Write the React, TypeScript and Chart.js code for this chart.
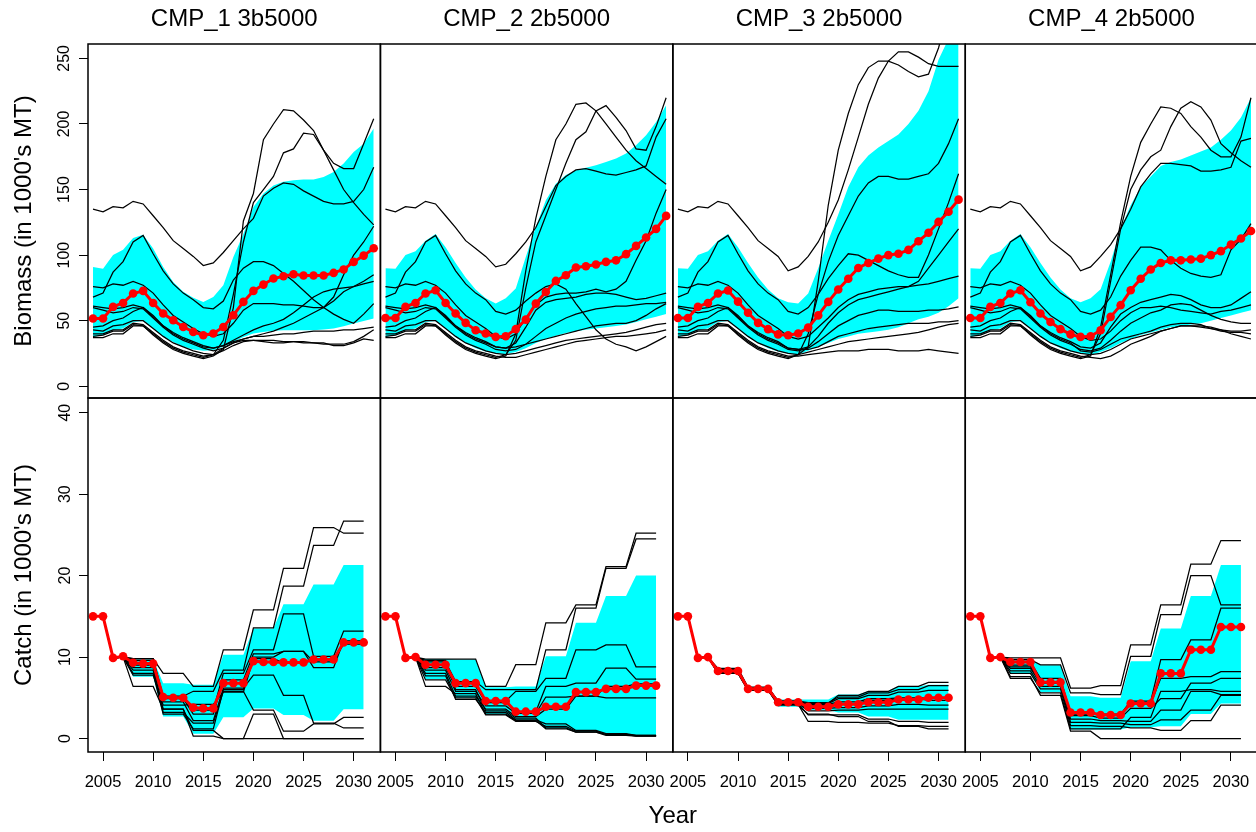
import React, { useEffect, useRef } from "react";
import { Chart, registerables } from "chart.js";

Chart.register(...registerables);

// ---------- axes / labels ----------
const PANEL_TITLES = ["CMP_1 3b5000", "CMP_2 2b5000", "CMP_3 2b5000", "CMP_4 2b5000"];
const X_TICKS = [2005, 2010, 2015, 2020, 2025, 2030];
const BIO_TICKS = [0, 50, 100, 150, 200, 250];
const CATCH_TICKS = [0, 10, 20, 30, 40];
const YEARS_BIO = [2004, 2005, 2006, 2007, 2008, 2009, 2010, 2011, 2012, 2013, 2014, 2015, 2016, 2017, 2018, 2019, 2020, 2021, 2022, 2023, 2024, 2025, 2026, 2027, 2028, 2029, 2030, 2031, 2032];
const YEARS_CATCH = [2004, 2005, 2006, 2007, 2008, 2009, 2010, 2011, 2012, 2013, 2014, 2015, 2016, 2017, 2018, 2019, 2020, 2021, 2022, 2023, 2024, 2025, 2026, 2027, 2028, 2029, 2030, 2031];

// ---------- biomass: medians ----------
const BIO_MED_1 = [51.6, 51.6, 60.5, 63.5, 70.7, 72.7, 63.5, 55.4, 50.3, 45.2, 41.4, 38.9, 40.2, 45.2, 54.1, 64.3, 72.7, 77.5, 82.1, 83.9, 85.4, 84.4, 84.4, 84.4, 86.4, 89, 94.8, 99.6, 105.2];
const BIO_MED_2 = [52, 52, 60.5, 63.5, 70.7, 73.2, 63.5, 55.4, 48.3, 42.7, 40.2, 37.6, 38.1, 43.5, 50.8, 63, 71.9, 80.3, 84.6, 90.5, 91.5, 92.8, 94.8, 96, 100.7, 107, 113.4, 120, 129.9];
const BIO_MED_3 = [52, 52, 60.5, 63.5, 70.7, 73, 64.5, 56, 48.3, 43.5, 39.5, 38.9, 40.2, 44.7, 54, 64.3, 73.7, 82, 90.2, 94, 97.3, 100, 101, 104, 110.6, 117, 125.3, 133, 142.3];
const BIO_MED_4 = [52, 52, 60.5, 63.5, 70.7, 73.2, 64, 55.4, 49, 43.5, 39.5, 37.6, 38.1, 42.7, 52.9, 61.8, 73.2, 82, 89, 94, 96, 96, 96.6, 97.3, 100, 103, 108, 112.6, 118.4];

// ---------- biomass: bands ----------
const BIO_HI_1 = [91, 89.5, 100, 104, 113, 115.6, 105, 91, 79.5, 72, 67.4, 64.3, 68, 77, 98.6, 116, 136.7, 147, 153, 156, 157, 157.6, 157.6, 159.6, 163.4, 169.8, 178.7, 185, 196.5];
const BIO_LO_1 = [37.6, 39, 42.7, 44, 49, 49.8, 44, 37.6, 33.8, 30, 28, 27, 27.5, 30, 33.8, 37.6, 40.2, 41.4, 42.2, 42.7, 42.7, 42.7, 42.7, 43.2, 44, 45.7, 47.8, 49.8, 51.6];
const BIO_HI_2 = [90, 89.5, 100, 103, 111, 116, 106, 94, 83, 73.7, 67, 63, 67, 74.5, 98.6, 121.5, 141.8, 154.5, 161, 164.7, 166.7, 168.5, 171, 173.6, 177.4, 183.8, 191.4, 201.5, 214.3];
const BIO_LO_2 = [37.6, 39, 42.7, 44, 49, 49.8, 44, 37.6, 33, 29, 26.5, 25, 24.5, 26, 29, 33, 36, 38.5, 40.5, 42, 43, 44, 45, 46, 47, 49, 51, 53, 55];
const BIO_HI_3 = [90, 89.5, 100, 103, 111, 116, 106, 94, 83, 73.7, 67, 64, 63, 70.7, 90, 111, 131, 152, 167, 176, 182, 187, 192, 200, 210, 225, 249, 265, 280];
const BIO_LO_3 = [37.6, 39, 42.7, 44, 49, 49.8, 44, 37.6, 33, 29, 26.5, 25, 24, 27, 30, 33, 36, 38, 40, 41, 42, 43, 45, 48, 51, 53, 56, 61, 67];
const BIO_HI_4 = [90, 89.5, 100, 103, 111, 116, 106, 94, 83, 73.7, 67, 64, 67, 74, 95, 120, 138, 152, 160, 168, 171, 173, 176, 179, 182, 188, 195, 205, 220];
const BIO_LO_4 = [37.6, 39, 42.7, 44, 49, 49.8, 44, 37.6, 33, 29, 26.5, 25, 24, 26, 29, 33, 36, 39, 41, 43, 45, 46, 47, 48, 50, 52, 54, 56, 58];

// ---------- biomass: 10 sample trajectories, 2004-2014 (shared history) ----------
const BIO_HIST = [
  [135, 133, 137, 136, 141, 139, 130, 121, 111, 105, 99],
  [76, 75, 78, 77, 80, 77, 71, 62, 54, 49, 44],
  [68, 71, 87, 95, 110, 115, 101, 88, 78, 71, 66],
  [61, 60, 59, 60, 62, 60, 53, 46, 41, 37, 34],
  [60, 58, 56, 57, 60, 59, 52, 45, 39, 35, 32],
  [45, 46, 50, 52, 57, 60, 54, 46, 40, 36, 33],
  [43, 42, 46, 47, 50, 50, 44, 38, 33, 30, 27],
  [40, 40, 43, 43, 48, 47, 41, 35, 30, 27, 25],
  [38, 39, 42, 42, 47, 46, 40, 34, 29, 26, 24],
  [37, 37, 40, 40, 46, 46, 39, 33, 28, 25, 23],
];
// ---------- biomass: projections 2015-2032 ----------
const BIO_PROJ_1 = [
  [92, 94, 102, 111, 120, 128, 145, 151, 155, 154, 149, 145, 141, 139, 139, 141, 150, 167],
  [40, 38, 40, 48, 58, 63, 63, 63, 62, 62, 61, 60, 60, 65, 72, 76, 80, 85],
  [60, 59, 65, 81, 90, 95, 95, 92, 86, 80, 73, 66, 60, 55, 51, 48, 55, 63],
  [31, 29, 31, 35, 39, 43, 46, 48, 51, 56, 62, 68, 72, 74, 75, 76, 78, 80],
  [29, 27, 29, 33, 36, 38, 40, 42, 45, 48, 52, 56, 60, 68, 85, 100, 110, 122],
  [30, 29, 31, 34, 36, 38, 38, 39, 40, 40, 41, 42, 42, 42, 43, 43, 44, 45],
  [25, 24, 27, 31, 34, 35, 35, 35, 34, 34, 33, 33, 32, 32, 32, 34, 38, 43],
  [23, 24, 29, 33, 35, 35, 34, 33, 33, 34, 34, 33, 33, 31, 31, 33, 36, 35],
  [22, 24, 35, 70, 110, 140, 150, 160, 178, 181, 193, 192, 180, 170, 166, 166, 185, 204],
  [21, 23, 28, 60, 126, 147, 188, 200, 211, 210, 203, 195, 180, 165, 150, 140, 131, 123],
];
const BIO_PROJ_2 = [
  [91, 93, 101, 110, 121, 137, 153, 160, 165, 166, 164, 162, 161, 163, 165, 168, 190, 204],
  [38, 36, 40, 52, 62, 68, 70, 71, 71, 72, 74, 72, 74, 80, 96, 111, 132, 150],
  [57, 55, 58, 65, 71, 76, 78, 74, 63, 53, 43, 36, 32, 30, 27, 30, 34, 38],
  [30, 29, 33, 45, 58, 64, 66, 67, 68, 70, 71, 71, 70, 68, 66, 67, 69, 71],
  [28, 27, 28, 32, 38, 44, 48, 52, 55, 57, 59, 60, 61, 61, 62, 63, 63, 64],
  [30, 29, 30, 32, 34, 36, 38, 40, 42, 44, 46, 47, 48, 48, 50, 54, 59, 63],
  [25, 24, 25, 27, 29, 31, 33, 35, 36, 37, 38, 39, 40, 41, 43, 45, 47, 48],
  [23, 22, 22, 24, 26, 28, 30, 32, 34, 35, 36, 37, 38, 38, 39, 40, 41, 43],
  [22, 24, 35, 75, 110, 130, 150, 170, 188, 194, 210, 214, 205, 195, 181, 180, 198, 220],
  [21, 23, 40, 88, 128, 160, 188, 200, 215, 216, 210, 200, 190, 180, 172, 166, 160, 154],
];
const BIO_PROJ_3 = [
  [88, 91, 99, 110, 125, 142, 165, 190, 215, 235, 248, 255, 255, 251, 246, 244, 244, 244],
  [38, 36, 38, 45, 52, 60, 66, 70, 72, 74, 75, 76, 76, 77, 78, 80, 82, 84],
  [57, 55, 60, 70, 82, 92, 101, 100, 96, 92, 88, 85, 83, 83, 100, 120, 140, 162],
  [29, 28, 30, 38, 48, 56, 62, 66, 68, 70, 72, 74, 76, 80, 90, 100, 110, 120],
  [28, 27, 29, 34, 40, 46, 50, 54, 56, 58, 58, 57, 57, 57, 58, 58, 59, 60.5],
  [29, 28, 28, 30, 34, 38, 40, 42, 44, 45, 46, 47, 48, 48, 48, 49, 49, 50],
  [25, 24, 26, 28, 30, 32, 34, 35, 36, 37, 38, 39, 40, 41, 43, 45, 47, 48],
  [23, 23, 24, 25, 26, 27, 27, 27, 28, 28, 28, 27, 27, 27, 28, 27, 26, 25],
  [22, 24, 40, 70, 95, 115, 130, 145, 155, 160, 160, 158, 158, 160, 162, 170, 185, 204],
  [21, 24, 30, 80, 138, 180, 208, 230, 243, 248, 248, 245, 240, 236, 238, 258, 285, 310],
];
const BIO_PROJ_4 = [
  [88, 91, 99, 108, 120, 135, 152, 162, 170, 170, 169, 168, 164, 164, 165, 167, 187, 189],
  [38, 35, 36, 42, 50, 56, 60, 60, 61, 60, 58, 57, 56, 55, 57, 58, 60, 62],
  [57, 55, 58, 68, 84, 96, 106, 106, 104, 96, 90, 86, 84, 83, 85, 104, 112, 124],
  [30, 29, 33, 45, 55, 60, 64, 66, 68, 70, 69, 66, 62, 60, 60, 62, 67, 72],
  [28, 27, 29, 35, 42, 48, 52, 56, 58, 62, 63, 62, 58, 54, 51, 49, 48, 48],
  [27, 26, 28, 32, 36, 38, 40, 42, 45, 47, 48, 48, 47, 44, 42, 41, 41, 40],
  [25, 24, 25, 28, 32, 36, 38, 40, 42, 44, 46, 46, 46, 45, 43, 40, 38, 36],
  [23, 22, 21, 23, 27, 32, 35, 38, 42, 44, 46, 46, 45, 44, 43, 42, 42, 43],
  [22, 24, 40, 80, 120, 150, 165, 175, 180, 198, 212, 217, 213, 203, 185, 178, 172, 167],
  [21, 23, 45, 85, 125, 160, 186, 200, 213, 212, 208, 198, 190, 180, 175, 175, 190, 220],
];

// ---------- catch: medians and bands ----------
const CATCH_MED_1 = [15, 15, 9.9, 10.1, 9.3, 9.2, 9.2, 5.1, 5, 5, 3.8, 3.7, 3.7, 6.8, 6.8, 6.8, 9.5, 9.4, 9.4, 9.35, 9.35, 9.35, 9.7, 9.7, 9.7, 11.8, 11.8, 11.8];
const CATCH_HI_1 = [15, 15, 9.9, 10, 9.7, 9.7, 9.7, 6.8, 6.8, 6.8, 6.6, 6.6, 6.6, 10.3, 10.3, 10.3, 13.5, 13.5, 13.5, 16.5, 16.5, 16.5, 18.9, 18.9, 18.9, 21.3, 21.3, 21.3];
const CATCH_LO_1 = [15, 15, 9.9, 10, 7.6, 7.6, 7.6, 2.7, 2.7, 2.7, 0.6, 0.6, 0.6, 2.6, 2.6, 2.6, 3.7, 3.7, 3.7, 2.9, 2.9, 2.9, 2.2, 2.2, 2.2, 3.6, 3.6, 3.6];
const CATCH_MED_2 = [15, 15, 9.9, 10, 9.06, 9.06, 9.06, 6.8, 6.8, 6.8, 4.6, 4.6, 4.6, 3.3, 3.3, 3.3, 3.9, 3.9, 3.9, 5.7, 5.7, 5.7, 6.1, 6.1, 6.1, 6.5, 6.5, 6.5];
const CATCH_HI_2 = [15, 15, 9.9, 10, 9.75, 9.75, 9.75, 9.7, 9.7, 9.7, 6.3, 6.3, 6.3, 6.4, 6.4, 6.4, 10.1, 10.1, 10.1, 14.2, 14.2, 14.2, 17.5, 17.5, 17.5, 20, 20, 20];
const CATCH_LO_2 = [15, 15, 9.9, 10, 7.3, 7.3, 7.3, 5, 5, 5, 3, 3, 3, 2.2, 2.2, 2.2, 1.3, 1.3, 1.3, 0.8, 0.8, 0.8, 0.5, 0.5, 0.5, 0.4, 0.4, 0.4];
const CATCH_MED_3 = [15, 15, 9.9, 10, 8.3, 8.3, 8.3, 6.1, 6.1, 6.1, 4.45, 4.45, 4.45, 3.9, 3.9, 3.9, 4.2, 4.2, 4.2, 4.45, 4.45, 4.45, 4.8, 4.8, 4.8, 5, 5, 5];
const CATCH_HI_3 = [15, 15, 9.9, 10, 8.6, 8.6, 8.6, 6.3, 6.3, 6.3, 4.8, 4.8, 4.8, 4.8, 4.8, 4.8, 5.4, 5.4, 5.4, 5.8, 5.8, 5.8, 6.4, 6.4, 6.4, 6.6, 6.6, 6.6];
const CATCH_LO_3 = [15, 15, 9.9, 10, 8, 8, 8, 5.9, 5.9, 5.9, 3.9, 3.9, 3.9, 3.5, 3.5, 3.5, 3.2, 3.2, 3.2, 2.7, 2.7, 2.7, 2.3, 2.3, 2.3, 2.3, 2.3, 2.3];
const CATCH_MED_4 = [15, 15, 9.9, 10, 9.4, 9.4, 9.4, 6.9, 6.9, 6.9, 3.2, 3.2, 3.2, 2.9, 2.9, 2.9, 4.3, 4.3, 4.3, 8, 8, 8, 10.9, 10.9, 10.9, 13.7, 13.7, 13.7];
const CATCH_HI_4 = [15, 15, 9.9, 10, 9.7, 9.7, 9.7, 9, 9, 9, 5.2, 5.2, 5.2, 5, 5, 5, 9.5, 9.5, 9.5, 13.5, 13.5, 13.5, 17.5, 17.5, 17.5, 21.3, 21.3, 21.3];
const CATCH_LO_4 = [15, 15, 9.9, 10, 8, 8, 8, 5.7, 5.7, 5.7, 1.1, 1.1, 1.1, 1.1, 1.1, 1.1, 1.4, 1.4, 1.4, 1.5, 1.5, 1.5, 3, 3, 3, 4.3, 4.3, 4.3];

// ---------- catch: 10 sample trajectories per CMP ----------
const CATCH_LINES_1 = [
  [15, 15, 9.9, 10, 9.8, 9.8, 9.8, 8, 8, 8, 6.4, 6.4, 6.4, 10.9, 10.9, 10.9, 15.8, 15.8, 15.8, 20.9, 20.9, 20.9, 25.9, 25.9, 25.9, 25.2, 25.2, 25.2],
  [15, 15, 9.9, 10, 9.8, 9.8, 9.8, 5.2, 5.2, 5.2, 5.8, 5.8, 5.8, 8.4, 8.4, 8.4, 13.6, 13.6, 13.6, 18.7, 18.7, 18.7, 23.7, 23.7, 23.7, 26.7, 26.7, 26.7],
  [15, 15, 9.9, 10, 9.6, 9.6, 9.6, 5, 5, 5, 3.5, 3.5, 3.5, 8, 8, 8, 10.9, 10.9, 10.9, 15.3, 15.3, 15.3, 10.1, 10.1, 10.1, 13.2, 13.2, 13.2],
  [15, 15, 9.9, 10, 9.3, 9.3, 9.3, 4.9, 4.9, 4.9, 3, 3, 3, 7.2, 7.2, 7.2, 10.4, 10.4, 10.4, 10.7, 10.7, 10.7, 8.7, 8.7, 8.7, 12, 12, 12],
  [15, 15, 9.9, 10, 9, 9, 9, 4.5, 4.5, 4.5, 2.2, 2.2, 2.2, 6.2, 6.2, 6.2, 7.8, 7.8, 7.8, 5.3, 5.3, 5.3, 1.9, 1.9, 1.9, 1.3, 1.3, 1.3],
  [15, 15, 9.9, 10, 8.7, 8.7, 8.7, 3.6, 3.6, 3.6, 1, 1, 1, 0, 0, 0, 3, 3, 3, 0, 0, 0, 0, 0, 0, 0, 0, 0],
  [15, 15, 9.9, 10, 8.4, 8.4, 8.4, 3.2, 3.2, 3.2, 1.9, 1.9, 1.9, 5.8, 5.8, 5.8, 3.5, 3.5, 3.5, 0.9, 0.9, 0.9, 1.8, 1.8, 1.8, 2.6, 2.6, 2.6],
  [15, 15, 9.9, 10, 8, 8, 8, 3, 3, 3, 1.2, 1.2, 1.2, 6, 6, 6, 10, 10, 10, 10.7, 10.7, 10.7, 9.4, 9.4, 9.4, 11.7, 11.7, 11.7],
  [15, 15, 9.9, 10, 7.8, 7.8, 7.8, 4.1, 4.1, 4.1, 4.2, 4.2, 4.2, 5.7, 5.7, 5.7, 9.8, 9.8, 9.8, 9.3, 9.3, 9.3, 9.7, 9.7, 9.7, 11.6, 11.6, 11.6],
  [15, 15, 9.9, 10, 6.4, 6.4, 6.4, 3.6, 3.6, 3.6, 0.3, 0.3, 0.3, 0, 0, 0, 0, 0, 0, 0, 0, 0, 0, 0, 0, 0, 0, 0],
];
const CATCH_LINES_2 = [
  [15, 15, 9.9, 10, 9.75, 9.75, 9.75, 9.75, 9.75, 9.75, 6.4, 6.4, 6.4, 9.06, 9.06, 9.06, 14.2, 14.2, 14.2, 16.4, 16.4, 16.4, 21.1, 21.1, 21.1, 25.2, 25.2, 25.2],
  [15, 15, 9.9, 10, 9.4, 9.4, 9.4, 7, 7, 7, 6, 6, 6, 6, 6, 6, 10.9, 10.9, 10.9, 16, 16, 16, 20.9, 20.9, 20.9, 24.5, 24.5, 24.5],
  [15, 15, 9.9, 10, 9, 9, 9, 6.8, 6.8, 6.8, 4.6, 4.6, 4.6, 5.8, 5.8, 5.8, 7.4, 7.4, 7.4, 10.9, 10.9, 10.9, 11.5, 11.5, 11.5, 8.8, 8.8, 8.8],
  [15, 15, 9.9, 10, 8.7, 8.7, 8.7, 6.4, 6.4, 6.4, 4.4, 4.4, 4.4, 3.3, 3.3, 3.3, 6.4, 6.4, 6.4, 6.8, 6.8, 6.8, 8.65, 8.65, 8.65, 7.3, 7.3, 7.3],
  [15, 15, 9.9, 10, 8.4, 8.4, 8.4, 5.8, 5.8, 5.8, 4, 4, 4, 3.1, 3.1, 3.1, 5.1, 5.1, 5.1, 5.2, 5.2, 5.2, 6.4, 6.4, 6.4, 6.7, 6.7, 6.7],
  [15, 15, 9.9, 10, 8, 8, 8, 5.2, 5.2, 5.2, 3.6, 3.6, 3.6, 2.7, 2.7, 2.7, 3.6, 3.6, 3.6, 5.2, 5.2, 5.2, 5, 5, 5, 5, 5, 5],
  [15, 15, 9.9, 10, 7.7, 7.7, 7.7, 4.8, 4.8, 4.8, 3.2, 3.2, 3.2, 2.3, 2.3, 2.3, 1.8, 1.8, 1.8, 1, 1, 1, 0.6, 0.6, 0.6, 0.4, 0.4, 0.4],
  [15, 15, 9.9, 10, 7.2, 7.2, 7.2, 5, 5, 5, 2.9, 2.9, 2.9, 2.1, 2.1, 2.1, 1.5, 1.5, 1.5, 0.9, 0.9, 0.9, 0.5, 0.5, 0.5, 0.4, 0.4, 0.4],
  [15, 15, 9.9, 10, 9.6, 9.6, 9.6, 6, 6, 6, 3.4, 3.4, 3.4, 2.5, 2.5, 2.5, 1.3, 1.3, 1.3, 0.8, 0.8, 0.8, 0.5, 0.5, 0.5, 0.3, 0.3, 0.3],
  [15, 15, 9.9, 10, 6.4, 6.4, 6.4, 5.5, 5.5, 5.5, 3, 3, 3, 2.2, 2.2, 2.2, 1.2, 1.2, 1.2, 0.8, 0.8, 0.8, 0.4, 0.4, 0.4, 0.3, 0.3, 0.3],
];
const CATCH_LINES_3 = [
  [15, 15, 9.9, 10, 8.6, 8.6, 8.6, 6.3, 6.3, 6.3, 4.6, 4.6, 4.6, 4.3, 4.3, 4.3, 5.3, 5.3, 5.3, 5.8, 5.8, 5.8, 6.4, 6.4, 6.4, 6.9, 6.9, 6.9],
  [15, 15, 9.9, 10, 8.5, 8.5, 8.5, 6.2, 6.2, 6.2, 4.6, 4.6, 4.6, 4.4, 4.4, 4.4, 5.1, 5.1, 5.1, 5.6, 5.6, 5.6, 6, 6, 6, 6.5, 6.5, 6.5],
  [15, 15, 9.9, 10, 8.4, 8.4, 8.4, 6.1, 6.1, 6.1, 4.5, 4.5, 4.5, 4.3, 4.3, 4.3, 4.9, 4.9, 4.9, 5.3, 5.3, 5.3, 5.7, 5.7, 5.7, 5.9, 5.9, 5.9],
  [15, 15, 9.9, 10, 8.3, 8.3, 8.3, 6.1, 6.1, 6.1, 4.4, 4.4, 4.4, 4.2, 4.2, 4.2, 4.5, 4.5, 4.5, 4.9, 4.9, 4.9, 5, 5, 5, 5, 5, 5],
  [15, 15, 9.9, 10, 8.2, 8.2, 8.2, 6, 6, 6, 4.4, 4.4, 4.4, 4, 4, 4, 4.3, 4.3, 4.3, 4.7, 4.7, 4.7, 4.9, 4.9, 4.9, 4.7, 4.7, 4.7],
  [15, 15, 9.9, 10, 8.1, 8.1, 8.1, 6, 6, 6, 4.3, 4.3, 4.3, 3.7, 3.7, 3.7, 3.8, 3.8, 3.8, 4, 4, 4, 4.2, 4.2, 4.2, 4.1, 4.1, 4.1],
  [15, 15, 9.9, 10, 8, 8, 8, 5.9, 5.9, 5.9, 4.3, 4.3, 4.3, 3.4, 3.4, 3.4, 3.5, 3.5, 3.5, 3.6, 3.6, 3.6, 3.6, 3.6, 3.6, 3.6, 3.6, 3.6],
  [15, 15, 9.9, 10, 8.3, 8.3, 8.3, 6, 6, 6, 4.2, 4.2, 4.2, 2.9, 2.9, 2.9, 2.9, 2.9, 2.9, 2.4, 2.4, 2.4, 2.1, 2.1, 2.1, 2, 2, 2],
  [15, 15, 9.9, 10, 8.2, 8.2, 8.2, 6, 6, 6, 4.2, 4.2, 4.2, 2.1, 2.1, 2.1, 2, 2, 2, 1.9, 1.9, 1.9, 1.6, 1.6, 1.6, 1.5, 1.5, 1.5],
  [15, 15, 9.9, 10, 8, 8, 8, 5.9, 5.9, 5.9, 4.1, 4.1, 4.1, 3, 3, 3, 2.7, 2.7, 2.7, 2.1, 2.1, 2.1, 1.5, 1.5, 1.5, 1.2, 1.2, 1.2],
];
const CATCH_LINES_4 = [
  [15, 15, 9.9, 10, 9.9, 9.9, 9.9, 9.9, 9.9, 9.9, 6.2, 6.2, 6.2, 6.5, 6.5, 6.5, 11.5, 11.5, 11.5, 16.4, 16.4, 16.4, 21.4, 21.4, 21.4, 24.3, 24.3, 24.3],
  [15, 15, 9.9, 10, 9.7, 9.7, 9.7, 9.05, 9.05, 9.05, 5.6, 5.6, 5.6, 5.4, 5.4, 5.4, 10.1, 10.1, 10.1, 15.2, 15.2, 15.2, 20, 20, 20, 16.4, 16.4, 16.4],
  [15, 15, 9.9, 10, 9.4, 9.4, 9.4, 7.4, 7.4, 7.4, 3.1, 3.1, 3.1, 3, 3, 3, 4.6, 4.6, 4.6, 9.7, 9.7, 9.7, 12.1, 12.1, 12.1, 16, 16, 16],
  [15, 15, 9.9, 10, 9, 9, 9, 7, 7, 7, 3, 3, 3, 2.9, 2.9, 2.9, 4.3, 4.3, 4.3, 7.4, 7.4, 7.4, 7.6, 7.6, 7.6, 8.2, 8.2, 8.2],
  [15, 15, 9.9, 10, 8.8, 8.8, 8.8, 6.9, 6.9, 6.9, 2.8, 2.8, 2.8, 2.5, 2.5, 2.5, 3.7, 3.7, 3.7, 4.9, 4.9, 4.9, 6.8, 6.8, 6.8, 7.4, 7.4, 7.4],
  [15, 15, 9.9, 10, 8.6, 8.6, 8.6, 6.8, 6.8, 6.8, 2.4, 2.4, 2.4, 2.2, 2.2, 2.2, 2.1, 2.1, 2.1, 3.5, 3.5, 3.5, 5.8, 5.8, 5.8, 5.4, 5.4, 5.4],
  [15, 15, 9.9, 10, 8.3, 8.3, 8.3, 6.4, 6.4, 6.4, 2, 2, 2, 1.9, 1.9, 1.9, 1.7, 1.7, 1.7, 2.3, 2.3, 2.3, 3.5, 3.5, 3.5, 5.3, 5.3, 5.3],
  [15, 15, 9.9, 10, 8, 8, 8, 6.1, 6.1, 6.1, 1.6, 1.6, 1.6, 1.5, 1.5, 1.5, 1.3, 1.3, 1.3, 1, 1, 1, 2.2, 2.2, 2.2, 4.1, 4.1, 4.1],
  [15, 15, 9.9, 10, 7.4, 7.4, 7.4, 5.6, 5.6, 5.6, 1.2, 1.2, 1.2, 1.2, 1.2, 1.2, 2.6, 2.6, 2.6, 5.8, 5.8, 5.8, 6, 6, 6, 5.8, 5.8, 5.8],
  [15, 15, 9.9, 10, 7.6, 7.6, 7.6, 5.3, 5.3, 5.3, 0.9, 0.9, 0.9, 0, 0, 0, 0, 0, 0, 0, 0, 0, 0, 0, 0, 0, 0, 0],
];

// ---------- grouping ----------
const BIO_MEDS = [BIO_MED_1, BIO_MED_2, BIO_MED_3, BIO_MED_4];
const BIO_HIS = [BIO_HI_1, BIO_HI_2, BIO_HI_3, BIO_HI_4];
const BIO_LOS = [BIO_LO_1, BIO_LO_2, BIO_LO_3, BIO_LO_4];
const BIO_PROJS = [BIO_PROJ_1, BIO_PROJ_2, BIO_PROJ_3, BIO_PROJ_4];
const CATCH_MEDS = [CATCH_MED_1, CATCH_MED_2, CATCH_MED_3, CATCH_MED_4];
const CATCH_HIS = [CATCH_HI_1, CATCH_HI_2, CATCH_HI_3, CATCH_HI_4];
const CATCH_LOS = [CATCH_LO_1, CATCH_LO_2, CATCH_LO_3, CATCH_LO_4];
const CATCH_LINES = [CATCH_LINES_1, CATCH_LINES_2, CATCH_LINES_3, CATCH_LINES_4];

// ---------- style ----------
const FONT = "'Liberation Sans', Arial, Helvetica, sans-serif";
const CYAN = "#00FFFF";
const RED = "#FF0000";
const W = 1262;
const H = 832;

function toPoints(xs: number[], ys: number[]) {
  return ys.map((y, i) => ({ x: xs[i], y }));
}

function panelDatasets(xID: string, yID: string, years: number[], hi: number[], lo: number[], lines: number[][], med: number[]) {
  const out: any[] = [];
  out.push({
    data: toPoints(years, hi), xAxisID: xID, yAxisID: yID,
    borderColor: "rgba(0,0,0,0)", borderWidth: 0, pointRadius: 0,
    backgroundColor: CYAN, fill: "+1", order: 3,
  });
  out.push({
    data: toPoints(years, lo), xAxisID: xID, yAxisID: yID,
    borderColor: "rgba(0,0,0,0)", borderWidth: 0, pointRadius: 0,
    fill: false, order: 3,
  });
  lines.forEach((l) => {
    out.push({
      data: toPoints(years, l), xAxisID: xID, yAxisID: yID,
      borderColor: "#000000", borderWidth: 1.25, pointRadius: 0, fill: false, order: 2,
    });
  });
  out.push({
    data: toPoints(years, med), xAxisID: xID, yAxisID: yID,
    borderColor: RED, borderWidth: 3, pointRadius: 4.3, pointHoverRadius: 4.3,
    pointBackgroundColor: RED, pointBorderColor: RED, pointBorderWidth: 0,
    fill: false, order: 1,
  });
  return out;
}

function noPad(s: any) {
  s.paddingLeft = 0;
  s.paddingRight = 0;
  s.paddingTop = 0;
  s.paddingBottom = 0;
}

const panelFrame = {
  id: "panelFrame",
  afterDatasetsDraw(chart: any) {
    const ctx = chart.ctx;
    ctx.save();
    ctx.strokeStyle = "#000";
    ctx.lineWidth = 1.5;
    ["x1", "x2", "x3", "x4"].forEach((xid) => {
      ["yTop", "yBot"].forEach((yid) => {
        const xs = chart.scales[xid];
        const ys = chart.scales[yid];
        ctx.strokeRect(xs.left, ys.top, xs.right - xs.left, ys.bottom - ys.top);
      });
    });
    ctx.restore();
  },
};

export default function App() {
  const ref = useRef<HTMLCanvasElement>(null);

  useEffect(() => {
    if (!ref.current) return;
    const datasets: any[] = [];
    for (let p = 0; p < 4; p++) {
      const xid = "x" + (p + 1);
      const bioLines = BIO_HIST.map((h, i) => h.concat(BIO_PROJS[p][i]));
      datasets.push(...panelDatasets(xid, "yTop", YEARS_BIO, BIO_HIS[p], BIO_LOS[p], bioLines, BIO_MEDS[p]));
      datasets.push(...panelDatasets(xid, "yBot", YEARS_CATCH, CATCH_HIS[p], CATCH_LOS[p], CATCH_LINES[p], CATCH_MEDS[p]));
    }

    const scales: any = {};
    for (let i = 0; i < 4; i++) {
      scales["x" + (i + 1)] = {
        type: "linear", position: "bottom", stack: "xs", stackWeight: 1, weight: i + 1,
        min: 2003.5, max: 2032.67,
        afterBuildTicks: (s: any) => { s.ticks = X_TICKS.map((v) => ({ value: v })); },
        afterFit: (s: any) => { s.height = 48; noPad(s); },
        ticks: {
          autoSkip: false, minRotation: 0, maxRotation: 0, padding: 12, color: "#000",
          font: { family: FONT, size: 16.5 }, callback: (v: any) => String(v),
        },
        grid: { display: true, drawOnChartArea: false, drawTicks: true, tickLength: 9, color: "#000", lineWidth: 1 },
        border: { display: false },
      };
      scales["t" + (i + 1)] = {
        type: "linear", position: "top", stack: "ts", stackWeight: 1, weight: 4 - i,
        min: 0, max: 1,
        afterFit: (s: any) => { s.height = 44; noPad(s); },
        ticks: { display: false },
        grid: { display: false, drawTicks: false },
        border: { display: false },
        title: {
          display: true, text: PANEL_TITLES[i], color: "#000",
          font: { family: FONT, size: 24 }, padding: { top: 4.6, bottom: 0 },
        },
      };
    }
    scales.yTop = {
      type: "linear", position: "left", stack: "ys", stackWeight: 1, weight: 2,
      min: -9, max: 261,
      afterBuildTicks: (s: any) => { s.ticks = BIO_TICKS.map((v) => ({ value: v })); },
      afterFit: (s: any) => { s.width = 88; noPad(s); },
      ticks: {
        minRotation: 90, maxRotation: 90, crossAlign: "center", padding: 1, color: "#000",
        font: { family: FONT, size: 16 }, callback: (v: any) => String(v),
      },
      grid: { display: true, drawOnChartArea: false, drawTicks: true, tickLength: 9, color: "#000", lineWidth: 1 },
      border: { display: false },
      title: {
        display: true, text: "Biomass (in 1000's MT)", color: "#000",
        font: { family: FONT, size: 24 }, padding: { top: 10, bottom: 0 },
      },
    };
    scales.yBot = {
      type: "linear", position: "left", stack: "ys", stackWeight: 1, weight: 1,
      min: -1.65, max: 41.8,
      afterBuildTicks: (s: any) => { s.ticks = CATCH_TICKS.map((v) => ({ value: v })); },
      afterFit: (s: any) => { s.width = 88; noPad(s); },
      ticks: {
        minRotation: 90, maxRotation: 90, crossAlign: "center", padding: 5, color: "#000",
        font: { family: FONT, size: 16 }, callback: (v: any) => String(v),
      },
      grid: { display: true, drawOnChartArea: false, drawTicks: true, tickLength: 9, color: "#000", lineWidth: 1 },
      border: { display: false },
      title: {
        display: true, text: "Catch (in 1000's MT)", color: "#000",
        font: { family: FONT, size: 24 }, padding: { top: 10, bottom: 0 },
      },
    };

    const chart = new Chart(ref.current, {
      type: "line",
      data: { datasets },
      options: {
        responsive: false,
        animation: false,
        devicePixelRatio: 1,
        events: [],
        layout: { padding: 0 },
        elements: { line: { tension: 0 } },
        scales,
        plugins: {
          legend: { display: false },
          tooltip: { enabled: false },
          title: {
            display: true, text: "Year", position: "bottom", fullSize: false, align: "center",
            color: "#000", font: { family: FONT, size: 24, weight: "normal" },
            padding: { top: 2.3, bottom: 0.9 },
          },
        },
      } as any,
      plugins: [panelFrame],
    });
    return () => chart.destroy();
  }, []);

  return (
    <div style={{ position: "fixed", left: 0, top: 0, width: 1256, height: 832, overflow: "hidden", background: "#fff" }}>
      <canvas ref={ref} width={W} height={H} style={{ position: "absolute", left: 0, top: 0, width: W, height: H }} />
    </div>
  );
}
